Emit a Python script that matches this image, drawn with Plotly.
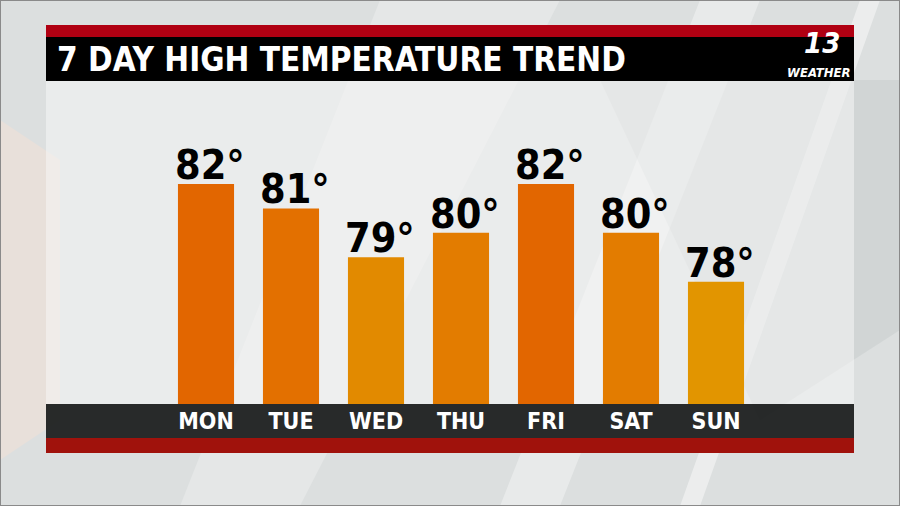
import plotly.graph_objects as go

days = ["MON", "TUE", "WED", "THU", "FRI", "SAT", "SUN"]
highs = [82, 81, 79, 80, 82, 80, 78]
labels = ["82°", "81°", "79°", "80°", "82°", "80°", "78°"]
bar_colors = ["#E26600", "#E37000", "#E28A00", "#E37C00", "#E26600", "#E37C00", "#E29500"]
title = "7 DAY HIGH TEMPERATURE TREND"

W, H = 900, 506
def fx(px):
    return px / W
def fy(py):
    return 1 - py / H

COND = "DejaVu Sans Condensed, Liberation Sans Narrow, sans-serif"

fig = go.Figure()
fig.add_trace(go.Bar(
    x=list(range(len(days))), y=highs, width=0.66,
    marker=dict(color=bar_colors, line=dict(width=0)),
    hoverinfo="skip",
))

def path(points, color):
    d = "M " + " L ".join(f"{fx(x):.4f},{fy(y):.4f}" for x, y in points) + " Z"
    return dict(type="path", path=d, xref="paper", yref="paper", fillcolor=color,
                line=dict(width=0), layer="below")

def rect(x0, y0, x1, y1, color, layer="below"):
    return dict(type="rect", xref="paper", yref="paper", x0=fx(x0), x1=fx(x1),
                y0=fy(y1), y1=fy(y0), fillcolor=color, line=dict(width=0), layer=layer)

shapes = [
    path([(700, 0), (760, 0), (560, 506), (500, 506)], "rgba(255,255,255,0.35)"),
    path([(860, 0), (880, 0), (700, 506), (680, 506)], "rgba(255,255,255,0.45)"),
    path([(380, 0), (560, 0), (300, 506), (180, 506)], "rgba(255,255,255,0.25)"),
    path([(600, 80), (900, 80), (900, 330), (760, 420)], "rgba(150,160,160,0.15)"),
    path([(0, 120), (60, 160), (60, 420), (0, 460)], "rgba(255,225,210,0.35)"),
    rect(46, 81, 854, 404, "rgba(245,246,246,0.55)"),
    rect(46, 25, 854, 37, "#B00012"),
    rect(46, 37, 854, 81, "#000000"),
    rect(46, 404, 854, 438, "rgba(30,32,32,0.95)"),
    rect(46, 438, 854, 453, "#A0120C"),
    dict(type="rect", xref="paper", yref="paper", x0=0, x1=1, y0=0, y1=1,
         line=dict(color="#8a8a8a", width=2), fillcolor="rgba(0,0,0,0)", layer="above"),
]

annotations = [
    dict(text=title, x=fx(55), y=fy(60), xref="paper", yref="paper", xanchor="left",
         yanchor="middle", showarrow=False,
         font=dict(family=COND, size=33, color="#FFFFFF", weight="bold")),
    dict(text="<i>13</i>", x=fx(822), y=fy(43), xref="paper", yref="paper", xanchor="center",
         yanchor="middle", showarrow=False,
         font=dict(family=COND, size=29, color="#FFFFFF", weight="bold")),
    dict(text="<i>WEATHER</i>", x=fx(818), y=fy(72), xref="paper", yref="paper", xanchor="center",
         yanchor="middle", showarrow=False,
         font=dict(family=COND, size=13, color="#FFFFFF", weight="bold")),
]
for i, (v, lab) in enumerate(zip(highs, labels)):
    annotations.append(dict(
        text=lab, x=i, y=v, xref="x", yref="y", xanchor="center", yanchor="bottom",
        xshift=4, yshift=-7, showarrow=False,
        font=dict(family=COND, size=41, color="#000000", weight="bold")))

x_lo = -160 / 85
x_hi = (854 - 206) / 85
fig.update_layout(
    width=W, height=H, margin=dict(l=0, r=0, t=0, b=0),
    paper_bgcolor="#DCDFDF", plot_bgcolor="rgba(0,0,0,0)",
    showlegend=False,
    shapes=shapes, annotations=annotations,
    xaxis=dict(domain=[fx(46), fx(854)], range=[x_lo, x_hi],
               tickmode="array", tickvals=list(range(len(days))), ticktext=days,
               showgrid=False, zeroline=False, showline=False, ticks="",
               ticklabelstandoff=1,
               tickfont=dict(family=COND, size=23, color="#FFFFFF", weight="bold")),
    yaxis=dict(domain=[fy(404), fy(81)], range=[73, 73 + 323 / 24.45],
               showgrid=False, zeroline=False, showline=False, showticklabels=False),
)

fig.write_html("out.html", config={"displayModeBar": False},
               post_script="document.body.style.margin='0';document.body.style.overflow='hidden';")
